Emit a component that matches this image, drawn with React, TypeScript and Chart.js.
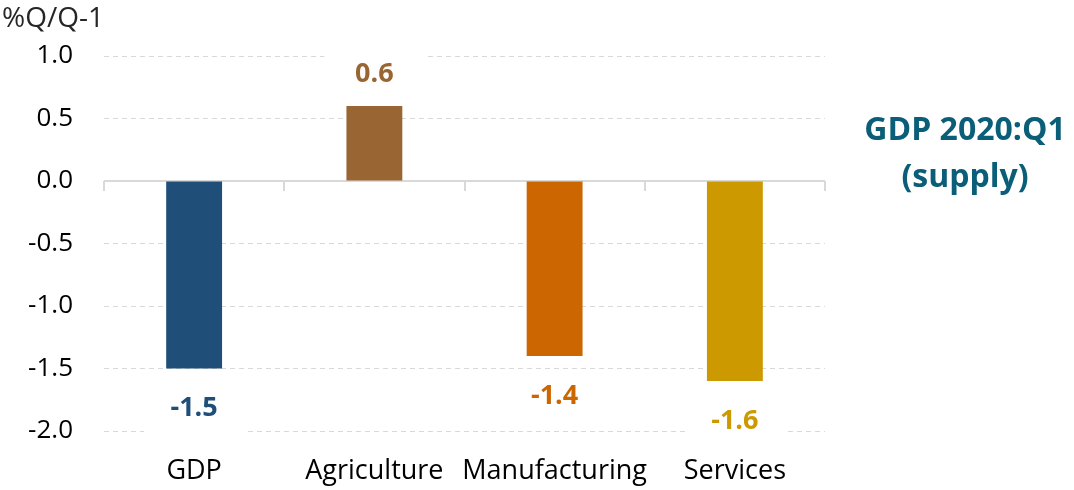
import React, { useEffect, useRef } from "react";
import { Chart, registerables } from "chart.js";

Chart.register(...registerables);

const categories = ["GDP", "Agriculture", "Manufacturing", "Services"];
const values = [-1.5, 0.6, -1.4, -1.6];
const barColors = ["#1f4e79", "#996633", "#cc6600", "#cc9900"];
const yTicks = [1.0, 0.5, 0.0, -0.5, -1.0, -1.5, -2.0];
const yAxisTitle = "%Q/Q-1";
const titleLines = ["GDP 2020:Q1", "(supply)"];

const FONT = "'Open Sans', sans-serif";

const customPlugin = {
  id: "custom",
  beforeDatasetsDraw(chart: any) {
    const ctx = chart.ctx;
    const x = chart.scales.x;
    const y = chart.scales.y;
    const y0 = y.getPixelForValue(0);
    ctx.save();
    ctx.strokeStyle = "#d9d9d9";
    ctx.lineWidth = 2;
    ctx.beginPath();
    ctx.moveTo(chart.chartArea.left, y0);
    ctx.lineTo(chart.chartArea.right, y0);
    const n = categories.length;
    const step = x.getPixelForValue(1) - x.getPixelForValue(0);
    for (let i = 0; i <= n; i++) {
      const px = i < n ? x.getPixelForValue(i) - step / 2 : chart.chartArea.right;
      const xx = Math.round(px);
      ctx.moveTo(xx, y0);
      ctx.lineTo(xx, y0 + 10);
    }
    ctx.stroke();
    ctx.restore();
  },
  afterDatasetsDraw(chart: any) {
    const ctx = chart.ctx;
    const meta = chart.getDatasetMeta(0);
    ctx.save();
    meta.data.forEach((bar: any, i: number) => {
      const v = values[i];
      const cx = bar.x;
      const cy = v >= 0 ? bar.y - 32 : bar.y + 40;
      ctx.fillStyle = "#ffffff";
      ctx.fillRect(cx - 50, cy - 25, 100, 50);
      ctx.fillStyle = barColors[i];
      ctx.font = `bold 27px ${FONT}`;
      ctx.textAlign = "center";
      ctx.textBaseline = "middle";
      ctx.fillText(v.toFixed(1), cx, cy);
    });
    // axis title
    ctx.fillStyle = "#262626";
    ctx.font = `28px ${FONT}`;
    ctx.textAlign = "left";
    ctx.textBaseline = "middle";
    ctx.fillText(yAxisTitle, 2, 19);
    // title
    ctx.fillStyle = "#0a5e78";
    ctx.font = `bold 32px ${FONT}`;
    ctx.textAlign = "center";
    ctx.fillText(titleLines[0], 965, 131);
    ctx.fillText(titleLines[1], 965, 178);
    ctx.restore();
  },
};

export default function App() {
  const ref = useRef<HTMLCanvasElement>(null);
  useEffect(() => {
    document.body.style.margin = "0";
    const chart = new Chart(ref.current!, {
      type: "bar",
      data: {
        labels: categories,
        datasets: [
          {
            data: values,
            backgroundColor: barColors,
            borderWidth: 0,
            barPercentage: 0.31,
            categoryPercentage: 1,
          },
        ],
      },
      options: {
        animation: false,
        responsive: false,
        maintainAspectRatio: false,
        layout: { padding: { top: 56, right: 249, left: 0, bottom: 0 } },
        plugins: { legend: { display: false }, tooltip: { enabled: false } },
        scales: {
          x: {
            grid: { display: false, drawTicks: false },
            border: { display: false },
            ticks: {
              padding: 24,
              color: "#000000",
              autoSkip: false,
              maxRotation: 0,
              minRotation: 0,
              font: { family: FONT, size: 27 },
            },
            afterFit(s: any) {
              s.height = 59;
            },
          },
          y: {
            min: -2,
            max: 1,
            afterBuildTicks(s: any) {
              s.ticks = yTicks.map((v) => ({ value: v }));
            },
            grid: {
              drawTicks: false,
              color: (c: any) => (c.tick && c.tick.value === 0 ? "rgba(0,0,0,0)" : "#d9d9d9"),
              lineWidth: 1,
            },
            border: { display: false, dash: [5, 4] },
            ticks: {
              padding: 31,
              color: "#000000",
              font: { family: FONT, size: 26 },
              callback: (v: any) => Number(v).toFixed(1),
            },
            afterFit(s: any) {
              s.width = 104;
            },
          },
        },
      },
      plugins: [customPlugin],
    } as any);
    return () => chart.destroy();
  }, []);
  return (
    <div style={{ width: 1074, height: 490 }}>
      <canvas ref={ref} width={1074} height={490} style={{ display: "block" }} />
    </div>
  );
}
